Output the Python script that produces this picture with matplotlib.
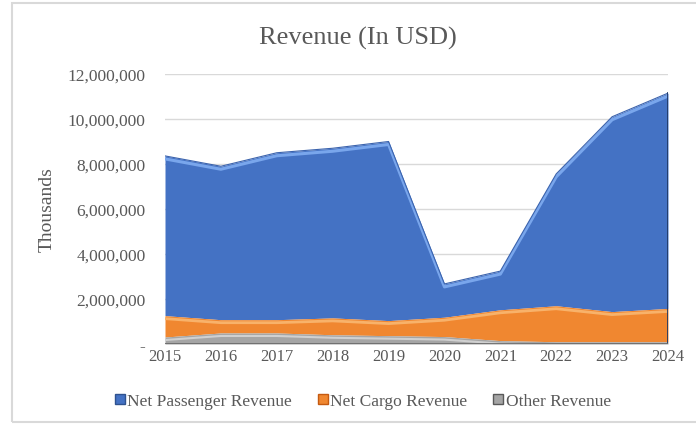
import matplotlib
matplotlib.use("Agg")
import matplotlib.pyplot as plt
import matplotlib.transforms as mtransforms
from matplotlib.patches import Patch, Rectangle
from matplotlib.ticker import FuncFormatter

years = [2015, 2016, 2017, 2018, 2019, 2020, 2021, 2022, 2023, 2024]
net_passenger = [7100000, 6820000, 7420000, 7540000, 7960000, 1480000, 1720000, 5860000, 8660000, 9570000]
net_cargo = [950000, 590000, 590000, 750000, 670000, 860000, 1370000, 1600000, 1340000, 1480000]
other = [310000, 490000, 490000, 410000, 370000, 330000, 150000, 100000, 100000, 100000]
series_names = ["Net Passenger Revenue", "Net Cargo Revenue", "Other Revenue"]
y_ticks = [0, 2000000, 4000000, 6000000, 8000000, 10000000, 12000000]

plt.rcParams['font.family'] = ['Liberation Serif', 'DejaVu Serif']
txt = '#595959'

fig = plt.figure(figsize=(6.96, 4.27), dpi=100)
fig.patches.append(Rectangle((12/696, 4/427), 700/696, 419/427, transform=fig.transFigure,
                             fill=False, edgecolor='#d9d9d9', lw=1.5, zorder=0))
ax = fig.add_axes([165/696, 1 - 345/427, (668 - 165)/696, (345 - 75)/427])

x = list(range(len(years)))
l1 = other
l2 = [a + b for a, b in zip(other, net_cargo)]
l3 = [a + b for a, b in zip(l2, net_passenger)]
zeros = [0] * len(x)

c_blue, c_orange, c_gray = '#4472C4', '#F08730', '#A5A5A5'
ax.fill_between(x, l2, l3, color=c_blue, lw=0, zorder=2)
ax.fill_between(x, l1, l2, color=c_orange, lw=0, zorder=3)
ax.fill_between(x, zeros, l1, color=c_gray, lw=0, zorder=4)

# bevel-like highlights
down = mtransforms.offset_copy(ax.transData, fig=fig, x=0, y=-3, units='dots')
ax.plot(x, l3, color='#79a6ec', lw=2.2, transform=down, zorder=5, solid_joinstyle='round')
ax.plot(x, l3, color='#3b63ad', lw=0.8, zorder=5)
ax.plot(x, l2, color='#f8b26a', lw=2.0, transform=down, zorder=5, solid_joinstyle='round')
ax.plot(x, l1, color='#d0d0d0', lw=1.5, transform=down, zorder=5)
ax.plot([x[-1], x[-1]], [0, l3[-1]], color='#1f3864', lw=2, zorder=6)
ax.plot(x, zeros, color='#6b6b6b', lw=2, zorder=6)

ax.set_xlim(0, len(x) - 1)
ax.set_ylim(0, 12000000)
ax.set_yticks(y_ticks)
ax.yaxis.set_major_formatter(FuncFormatter(lambda v, p: '-' if v == 0 else f'{int(v):,}'))
ax.set_xticks(x)
ax.set_xticklabels([str(y) for y in years])
ax.grid(axis='y', color='#d9d9d9', lw=1, zorder=0)
ax.set_axisbelow(True)
for s in ax.spines.values():
    s.set_visible(False)
ax.tick_params(axis='y', length=0, pad=14, labelsize=12.5, labelcolor=txt)
ax.tick_params(axis='x', length=0, pad=3, labelsize=12, labelcolor=txt)

fig.text(47/696, 1 - 210/427, 'Thousands', rotation=90, ha='center', va='center',
         fontsize=14, color=txt)
fig.text(358/696, 1 - 38/427, 'Revenue (In USD)', ha='center', va='center',
         fontsize=19, color=txt)

handles = [Patch(facecolor=c_blue, edgecolor='#2f528f'),
           Patch(facecolor=c_orange, edgecolor='#c55a11'),
           Patch(facecolor=c_gray, edgecolor='#595959')]
fig.legend(handles, series_names, loc='center', bbox_to_anchor=(363/696, 1 - 402/427),
           ncol=3, frameon=False, fontsize=12.5, labelcolor=txt,
           handlelength=0.55, handleheight=0.55, handletextpad=0.15, columnspacing=1.5)

fig.savefig('out.png', dpi=100)
